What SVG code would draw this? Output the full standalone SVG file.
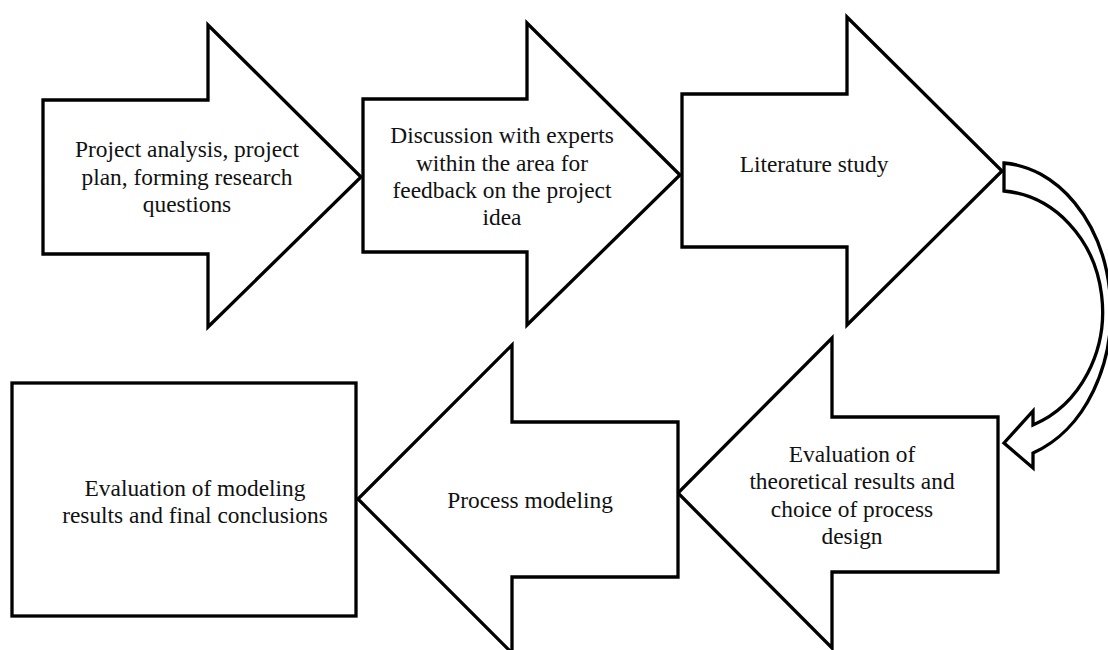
<svg xmlns="http://www.w3.org/2000/svg" width="1108" height="650" viewBox="0 0 1108 650">
<style>
.shape{fill:#ffffff;stroke:#000000;stroke-width:3.3;stroke-linejoin:miter}
.lbl{font-family:"Liberation Serif","Times New Roman",serif;font-size:23.4px;fill:#111111;text-anchor:middle}
</style>
<rect width="1108" height="650" fill="#ffffff"/>
<g id="step1">
<path class="shape" d="M43,100 L208,100 L208,25 L361,177 L208,327 L208,254 L43,254 Z"/>
<text class="lbl" x="187" y="157">Project analysis, project</text>
<text class="lbl" x="187" y="185">plan, forming research</text>
<text class="lbl" x="187" y="212">questions</text>
</g>
<g id="step2">
<path class="shape" d="M363,99 L527,99 L527,23 L680,175 L527,325 L527,252 L363,252 Z"/>
<text class="lbl" x="502" y="143">Discussion with experts</text>
<text class="lbl" x="502" y="171">within the area for</text>
<text class="lbl" x="502" y="198">feedback on the project</text>
<text class="lbl" x="502" y="225">idea</text>
</g>
<g id="step3">
<path class="shape" d="M682,94 L847,94 L847,17 L1002,171 L847,325 L847,247 L682,247 Z"/>
<text class="lbl" x="814" y="172">Literature study</text>
</g>
<g id="step4">
<path class="shape" d="M998,417 L832,417 L832,338 L678,493 L832,648 L832,572 L998,572 Z"/>
<text class="lbl" x="852" y="462">Evaluation of</text>
<text class="lbl" x="852" y="489">theoretical results and</text>
<text class="lbl" x="852" y="517">choice of process</text>
<text class="lbl" x="852" y="544">design</text>
</g>
<g id="step5">
<path class="shape" d="M678,422 L512,422 L512,345 L358,499 L512,653 L512,577 L678,577 Z"/>
<text class="lbl" x="530" y="508">Process modeling</text>
</g>
<g id="step6">
<rect class="shape" x="12" y="383" width="344" height="233"/>
<text class="lbl" x="195" y="496">Evaluation of modeling</text>
<text class="lbl" x="195" y="523">results and final conclusions</text>
</g>
<g id="connectors">
<path class="shape" d="M1004,163 A114,149 0 0 1 1033,453 L1033,468 L1004,443 L1033,411 L1033,425 A107,121 0 0 0 1004,191 Z"/>
</g>
</svg>
